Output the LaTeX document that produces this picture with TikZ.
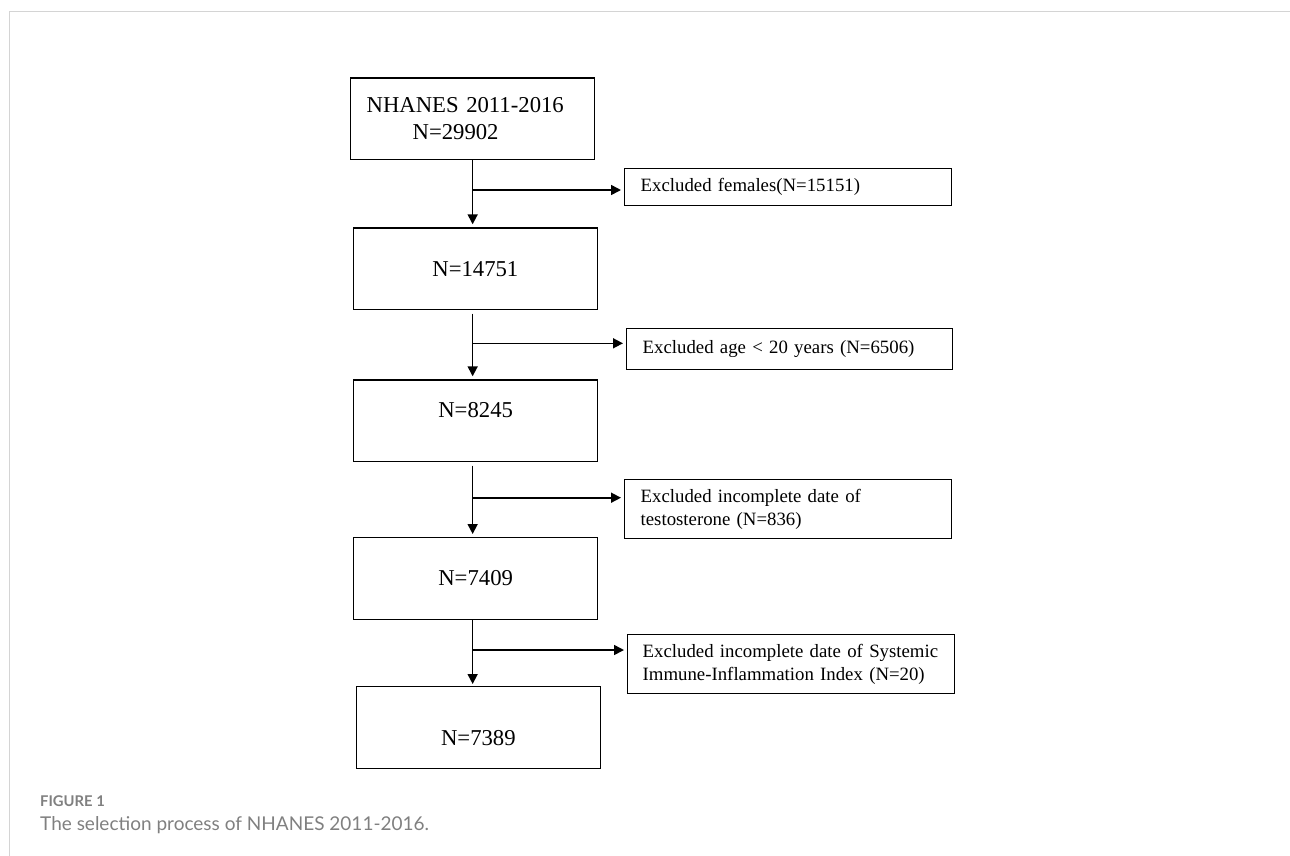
\documentclass[tikz,border=0pt]{standalone}
\usepackage{fontspec}
\setmainfont{Liberation Serif}
\newfontfamily\capfont{Lato}
\usetikzlibrary{arrows.meta,calc}
\definecolor{framegray}{RGB}{212,212,212}
\definecolor{capgray}{RGB}{128,128,128}
\begin{document}
\begin{tikzpicture}[x=1pt,y=-1pt,
  mainbox/.style={draw=black, line width=1.3pt, anchor=north west, inner sep=0pt,
    minimum width=244pt, minimum height=81.5pt, font=\fontsize{22.7}{26.7}\selectfont},
  exbox/.style={draw=black, line width=1.3pt, anchor=north west, inner xsep=16pt, inner ysep=0pt,
    align=left, font=\fontsize{18.8}{22.5}\selectfont},
  arr/.style={line width=1.6pt, -{Triangle[width=10pt,length=10pt]}},
  capnode/.style={anchor=base west, inner sep=0pt, text=capgray}]
\useasboundingbox (0,0) rectangle (1290,855);
\draw[framegray, line width=1pt] (9.5,860) -- (9.5,11) -- (1295,11);

\node[mainbox, inner xsep=16pt, text width=212pt, align=left] (A) at (350,77.3)
  {NHANES 2011-2016\\\hspace*{46pt}N=29902};
\node[mainbox] (B) at (352.7,227.3) {N=14751};
\node[mainbox] (C) at (353,379.3) {\raisebox{11pt}[\height][\depth]{N=8245}};
\node[mainbox] (D) at (353,537) {N=7409};
\node[mainbox] (F) at (355.7,686) {\raisebox{-11pt}[\height][\depth]{N=7389}};

\node[exbox, text width=295pt, minimum height=37pt] (E1) at (624,168) {\mbox{Excluded females(N=15151)}};
\node[exbox, text width=294pt, minimum height=41pt] (E2) at (626,328) {\mbox{Excluded age < 20 years (N=6506)}};
\node[exbox, text width=295pt, minimum height=59pt] (E3) at (624,479) {\mbox{Excluded incomplete date of}\\\mbox{testosterone (N=836)}};
\node[exbox, inner xsep=15pt, text width=297pt, minimum height=59pt] (E4) at (627,634) {\mbox{Excluded incomplete date of Systemic}\\\mbox{Immune-Inflammation Index (N=20)}};

\coordinate (b1) at (472,190);
\coordinate (b2) at (472,343.3);
\coordinate (b3) at (472,497.7);
\coordinate (b4) at (472,650);

\draw[arr, shorten >=3pt] (A.south) -- (A.south |- B.north);
\draw[arr, shorten <=3.5pt, shorten >=3pt] (A.south |- B.south) -- (A.south |- C.north);
\draw[arr, shorten <=3.5pt, shorten >=3pt] (A.south |- C.south) -- (A.south |- D.north);
\draw[arr, shorten >=2pt] (A.south |- D.south) -- (A.south |- F.north);

\draw[arr, shorten >=3pt] (b1) -- (b1 -| E1.west);
\draw[arr, shorten >=3pt] (b2) -- (b2 -| E2.west);
\draw[arr, shorten >=3pt] (b3) -- (b3 -| E3.west);
\draw[arr, shorten >=3pt] (b4) -- (b4 -| E4.west);

\node[capnode, font=\capfont\bfseries\fontsize{14.8}{17}\selectfont] (fig) at (40,806) {FIGURE 1};
\node[capnode, font=\capfont\fontsize{19}{22}\selectfont] (cap) at (40,830) {The selection process of NHANES 2011-2016.};
\end{tikzpicture}
\end{document}
